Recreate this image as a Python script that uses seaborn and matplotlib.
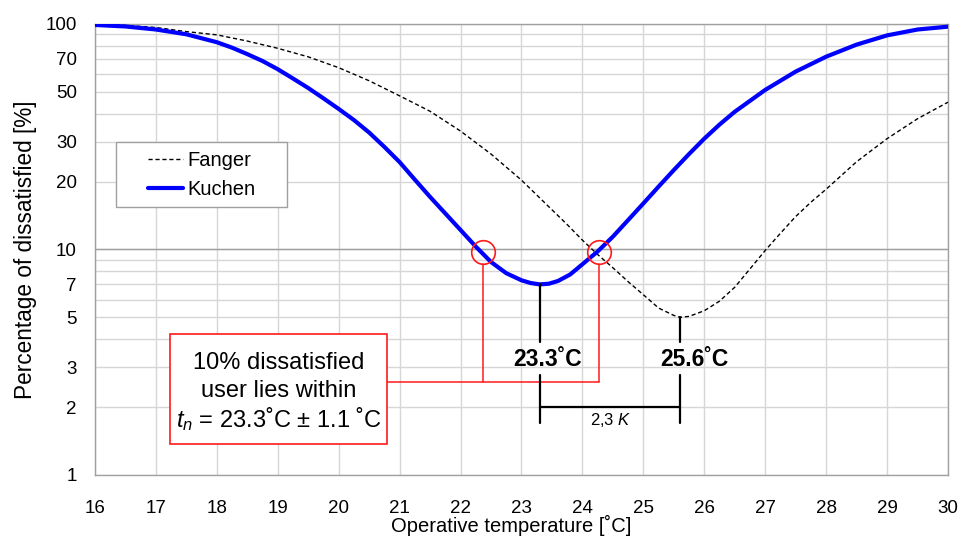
import numpy as np
import pandas as pd
import seaborn as sns
import matplotlib
matplotlib.use("Agg")
import matplotlib.pyplot as plt
from matplotlib.patches import Rectangle
from matplotlib.ticker import FixedLocator, FixedFormatter, NullFormatter

# valeurs
fanger_temp = [16, 16.5, 17, 17.5, 18, 18.5, 19, 19.5, 20, 20.5, 21, 21.5, 22, 22.5, 23,
               23.5, 23.75, 24, 24.25, 24.5, 24.75, 25, 25.25, 25.5, 25.6, 25.75, 26, 26.25,
               26.5, 26.75, 27, 27.25, 27.5, 27.75, 28, 28.5, 29, 29.5, 30]
fanger_ppd = [99.2, 98.5, 96.5, 92.5, 89.5, 84, 78, 71.5, 64, 56, 48, 41, 33.5, 26.5, 20.3,
              15, 12.9, 11, 9.5, 8.3, 7.2, 6.3, 5.5, 5.1, 5.0, 5.05, 5.35, 5.9,
              6.8, 8.2, 9.9, 11.8, 14, 16.2, 18.5, 24.5, 31, 38, 45]

kuchen_temp = [16, 16.5, 17, 17.5, 18, 18.25, 18.5, 18.75, 19, 19.25, 19.5, 19.75, 20, 20.25,
               20.5, 20.75, 21, 21.25, 21.5, 22, 22.25, 22.5, 22.75, 23, 23.15, 23.3, 23.45,
               23.6, 23.8, 24, 24.25, 24.5, 24.75, 25, 25.25, 25.5, 25.75, 26, 26.25, 26.5,
               27, 27.5, 28, 28.5, 29, 29.5, 30]
kuchen_ppd = [99, 97.5, 94.5, 90, 83, 78.5, 73.5, 68.5, 63, 57.3, 52, 46.8, 42, 37.5,
              33, 28.5, 24.4, 20.4, 17.1, 12.2, 10.3, 8.8, 7.85, 7.3, 7.1, 7.0, 7.05,
              7.25, 7.75, 8.6, 9.8, 11.4, 13.5, 16, 19, 22.5, 26.5, 31, 35.8, 40.8,
              51, 61.5, 71.6, 81, 89, 94.5, 97.3]

x_ticks = list(range(16, 31))
y_ticks = [1, 2, 3, 5, 7, 10, 20, 30, 50, 70, 100]
y_grid_extra = [4, 6, 8, 9, 40, 60, 80, 90]

# bornes des 10 % d'insatisfaits (cercles rouges)
band_low, band_high = 22.37, 24.27

df_f = pd.DataFrame({"T": fanger_temp, "PPD": fanger_ppd})
df_k = pd.DataFrame({"T": kuchen_temp, "PPD": kuchen_ppd})

sns.set_style("white")
plt.rcParams["font.family"] = ["Liberation Sans", "DejaVu Sans"]
plt.rcParams["mathtext.fontset"] = "custom"
plt.rcParams["mathtext.rm"] = "Liberation Sans"
plt.rcParams["mathtext.it"] = "Liberation Sans:italic"
for k in ["text.color", "axes.labelcolor", "xtick.color", "ytick.color"]:
    plt.rcParams[k] = "black"

fig = plt.figure(figsize=(9.73, 5.4), dpi=100)
ax = fig.add_axes([0.0976, 0.1204, 0.8767, 0.8352])

sns.lineplot(data=df_f, x="T", y="PPD", ax=ax, color="black", linewidth=1.0,
             label="Fanger", zorder=4)
ax.lines[-1].set_dashes((3, 2))
sns.lineplot(data=df_k, x="T", y="PPD", ax=ax, color="#0000ff", linewidth=3.0,
             label="Kuchen", zorder=5)

ax.set_yscale("log")
ax.set_xlim(16, 30)
ax.set_ylim(1, 100)

ax.xaxis.set_major_locator(FixedLocator(x_ticks))
ax.yaxis.set_major_locator(FixedLocator(y_ticks))
ax.yaxis.set_major_formatter(FixedFormatter([str(v) for v in y_ticks]))
ax.yaxis.set_minor_locator(FixedLocator(y_grid_extra))
ax.yaxis.set_minor_formatter(NullFormatter())
ax.tick_params(axis="both", which="both", length=0)
ax.tick_params(axis="x", labelsize=13.5, pad=18)
ax.tick_params(axis="y", labelsize=13.5, pad=13)

ax.grid(True, which="both", color="#d6d6d6", linewidth=1.0, zorder=0)
ax.axhline(10, color="#a0a0a0", linewidth=1.0, zorder=1)
for sp in ax.spines.values():
    sp.set_color("#a0a0a0")
    sp.set_linewidth(1.0)
ax.set_axisbelow(True)

ax.set_xlabel("Operative temperature [˚C]", fontsize=14.5)
ax.set_ylabel("Percentage of dissatisfied [%]", fontsize=16.3)
ax.xaxis.set_label_coords(0.4875, -0.113)
ax.xaxis.label.set_va("center")
ax.yaxis.set_label_coords(-0.081, 0.5)
ax.yaxis.label.set_va("center")

# légende : cadre dessiné à part
ax.add_patch(Rectangle((0.0246, 0.5942), 0.2005, 0.1441, transform=ax.transAxes,
                       facecolor="white", edgecolor="#a0a0a0", linewidth=1.0, zorder=6))
leg = ax.legend(loc="center left", bbox_to_anchor=(0.0621, 0.665), frameon=False,
                fontsize=14.5, handlelength=1.75, handletextpad=0.2, borderpad=0,
                borderaxespad=0, labelspacing=0.5)
leg.set_zorder(7)

# minima
ik = int(np.argmin(kuchen_ppd))
iff = int(np.argmin(fanger_ppd))
tk, pk = kuchen_temp[ik], kuchen_ppd[ik]
tf, pf = fanger_temp[iff], fanger_ppd[iff]

# annotations rouges
red = "#ff1a1a"
ax.plot([band_low, band_high], [9.7, 9.7], "o", ms=17, mfc="none", mec=red, mew=1.2, zorder=6)
ax.plot([band_low, band_low], [8.63, 2.59], color=red, lw=1.1, zorder=6)
ax.plot([band_high, band_high], [8.63, 2.59], color=red, lw=1.1, zorder=6)
ax.plot([20.80, band_high], [2.59, 2.59], color=red, lw=1.1, zorder=6)
ax.add_patch(Rectangle((17.23, 1.368), 20.80 - 17.23, 4.22 - 1.368, facecolor="white",
                       edgecolor=red, linewidth=1.2, zorder=7))
box_x = (17.23 + 20.80) / 2
ax.text(box_x, 3.13, "10% dissatisfied", fontsize=17, ha="center", va="center", zorder=8)
ax.text(box_x, 2.365, "user lies within", fontsize=17, ha="center", va="center", zorder=8)
ax.text(box_x, 1.766, "$t_n$ = 23.3˚C ± 1.1 ˚C", fontsize=17, ha="center", va="center",
        zorder=8)

# annotations noires
ax.plot([tk, tk], [pk, 3.9], color="black", lw=1.6, zorder=6)
ax.plot([tf, tf], [pf, 3.9], color="black", lw=1.6, zorder=6)
ax.text(tk + 0.12, 3.26, "23.3˚C", fontsize=16.5, fontweight="bold", ha="center", va="center")
ax.text(tf + 0.23, 3.26, "25.6˚C", fontsize=16.5, fontweight="bold", ha="center", va="center")
ax.plot([tk, tk], [2.777, 1.695], color="black", lw=1.6, zorder=6)
ax.plot([tf, tf], [2.777, 1.695], color="black", lw=1.6, zorder=6)
ax.plot([tk, tf], [2.01, 2.01], color="black", lw=1.6, zorder=6)
ax.text(24.47, 1.754, "2,3 $K$", fontsize=12, ha="center", va="center")

fig.savefig("out.png", dpi=100)
